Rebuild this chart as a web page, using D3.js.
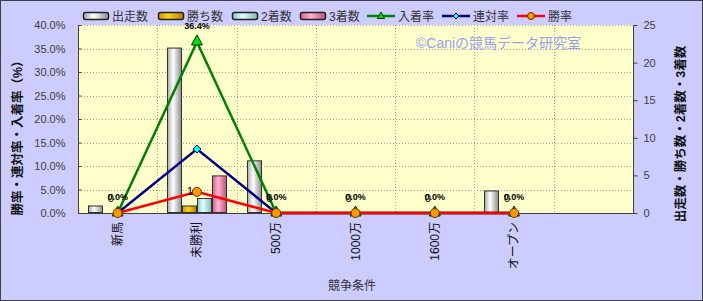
<!DOCTYPE html>
<html><head><meta charset="utf-8">
<script src="https://cdn.jsdelivr.net/npm/d3@7/dist/d3.min.js"></script>
<style>
html,body{margin:0;padding:0;background:#fff;}
svg{display:block;}
text{font-family:"Liberation Sans","Noto Sans CJK JP",sans-serif;}
</style></head><body>
<svg id="c" width="703" height="301"></svg>
<script>
const categories = ["新馬","未勝利","500万","1000万","1600万","オープン",""];
const starts  = [1,22,7,0,0,3,null];   // 出走数
const wins    = [0,1,0,0,0,0,null];    // 勝ち数
const seconds = [0,2,0,0,0,0,null];    // 2着数
const thirds  = [0,5,0,0,0,0,null];    // 3着数
const placeRate = [0,0.364,0,0,0,0,null]; // 入着率
const quinRate  = [0,0.136,0,0,0,0,null]; // 連対率
const winRate   = [0,0.045,0,0,0,0,null]; // 勝率
const placeLabels = ["0.0%","36.4%","0.0%","0.0%","0.0%","0.0%",null];
const winLabels   = ["0","1","0","0","0","0",null];
const leftTicks  = [0,0.05,0.1,0.15,0.2,0.25,0.3,0.35,0.4];
const rightTicks = [0,5,10,15,20,25];

const svg = d3.select("#c");
const W=703,H=301;
const L=78,R=633,T=25,B=213;

const defs = svg.append("defs");
function grad(id, c0, c1, c2){
  const g = defs.append("linearGradient").attr("id",id).attr("x1","0").attr("x2","1").attr("y1","0").attr("y2","0");
  g.append("stop").attr("offset","0%").attr("stop-color",c0);
  g.append("stop").attr("offset","40%").attr("stop-color",c1);
  g.append("stop").attr("offset","100%").attr("stop-color",c2);
}
grad("gS","#a8a8a8","#ffffff","#8c8c8c");
grad("gW","#c89600","#ffd21e","#b08000");
grad("gP","#8cc8c8","#e0ffff","#80b8b8");
grad("gT","#d0608c","#ffb4d2","#c05080");

// background
svg.append("rect").attr("x",0.5).attr("y",0.5).attr("width",W-1).attr("height",H-1)
  .attr("fill","#ccccff").attr("stroke","#404040").attr("stroke-width",1);
svg.append("rect").attr("x",L).attr("y",T).attr("width",R-L).attr("height",B-T).attr("fill","#ffffcc");

const x = d3.scaleBand().domain(categories.map((d,i)=>i)).range([L,R]).paddingInner(0).paddingOuter(0);
const xs = d3.scaleBand().domain([0,1,2,3]).range([0,x.bandwidth()]).paddingOuter(0.68).paddingInner(0);
const yL = d3.scaleLinear().domain([0,0.4]).range([B,T]);
const yR = d3.scaleLinear().domain([0,25]).range([B,T]);

// gridlines
const grid = svg.append("g").attr("stroke","#a0a0a0").attr("stroke-dasharray","1,2").attr("stroke-width",1);
leftTicks.slice(1).forEach(t=>{
  grid.append("line").attr("x1",L).attr("x2",R).attr("y1",Math.round(yL(t))+0.5).attr("y2",Math.round(yL(t))+0.5);
});
categories.forEach((c,i)=>{ if(i>0){
  const xx=Math.round(x(i))+0.5;
  grid.append("line").attr("x1",xx).attr("x2",xx).attr("y1",T).attr("y2",B);
}});

// watermark
svg.append("text").attr("x",416).attr("y",48).attr("fill","#9c9cf0").attr("font-size",14)
  .text("©Caniの競馬データ研究室");

// bars
const series = [
  {name:"出走数",vals:starts,fill:"url(#gS)"},
  {name:"勝ち数",vals:wins,fill:"url(#gW)"},
  {name:"2着数",vals:seconds,fill:"url(#gP)"},
  {name:"3着数",vals:thirds,fill:"url(#gT)"}
];
const barsG = svg.append("g");
series.forEach((s,si)=>{
  s.vals.forEach((v,i)=>{
    if(v==null||v<=0) return;
    const x0 = Math.round(x(i)+xs(si));
    barsG.append("rect").attr("x",x0+0.5).attr("y",yR(v)+0.5)
      .attr("width",Math.round(xs.bandwidth())-1).attr("height",yR(0)-yR(v)-1)
      .attr("fill",s.fill).attr("stroke","#303030").attr("stroke-width",1);
  });
});

// axes
const axG = svg.append("g");
axG.append("line").attr("x1",L+0.5).attr("x2",L+0.5).attr("y1",T).attr("y2",B+1).attr("stroke","#404040");
axG.append("line").attr("x1",R+0.5).attr("x2",R+0.5).attr("y1",T).attr("y2",B+1).attr("stroke","#404040");
axG.append("line").attr("x1",L).attr("x2",R+1).attr("y1",B+0.5).attr("y2",B+0.5).attr("stroke","#404040");

const leftAxis = d3.axisLeft(yL).tickValues(leftTicks).tickFormat(d3.format(".1%")).tickSize(-3).tickPadding(13);
const la = svg.append("g").attr("transform",`translate(${L+0.5},0)`).call(leftAxis);
la.select(".domain").remove();
la.selectAll("line").attr("stroke","#404040");
la.selectAll("text").attr("fill","#404040").attr("font-size",11).attr("font-family","Liberation Sans, sans-serif");

const rightAxis = d3.axisRight(yR).tickValues(rightTicks).tickFormat(d3.format("d")).tickSize(4).tickPadding(6);
const ra = svg.append("g").attr("transform",`translate(${R+0.5},0)`).call(rightAxis);
ra.select(".domain").remove();
ra.selectAll("line").attr("stroke","#404040");
ra.selectAll("text").attr("fill","#404040").attr("font-size",11).attr("font-family","Liberation Sans, sans-serif");

// x labels
categories.forEach((c,i)=>{
  if(!c) return;
  const cx = x(i)+x.bandwidth()/2;
  svg.append("text").attr("transform",`translate(${cx+4},${B+9}) rotate(-90)`)
    .attr("text-anchor","end").attr("font-size",12).attr("fill","#111").text(c);
});

// axis titles
svg.append("text").attr("x",352).attr("y",290).attr("text-anchor","middle").attr("font-size",12).attr("fill","#333").text("競争条件");
svg.append("text").attr("transform","translate(22,135) rotate(-90)").attr("text-anchor","middle")
  .attr("font-size",12.5).attr("font-weight","bold").attr("fill","#111").text("勝率・連対率・入着率（%）");
svg.append("text").attr("transform","translate(685,134) rotate(-90)").attr("text-anchor","middle")
  .attr("font-size",12.5).attr("font-weight","bold").attr("fill","#111").text("出走数・勝ち数・2着数・3着数");

// lines
const lineSeries = [
  {name:"入着率",vals:placeRate,color:"#008000",marker:"tri",mfill:"#00e000"},
  {name:"連対率",vals:quinRate,color:"#000080",marker:"dia",mfill:"#00ffff"},
  {name:"勝率",vals:winRate,color:"#ff0000",marker:"cir",mfill:"#ff9900"}
];
function drawMarker(g,type,cx,cy,fill){
  if(type==="tri"){
    g.append("path").attr("d",`M${cx},${cy-7}L${cx+5.5},${cy+3}L${cx-5.5},${cy+3}Z`).attr("fill",fill).attr("stroke","#003300").attr("stroke-width",1);
  } else if(type==="dia"){
    g.append("path").attr("d",`M${cx},${cy-4}L${cx+4},${cy}L${cx},${cy+4}L${cx-4},${cy}Z`).attr("fill",fill).attr("stroke","#000040").attr("stroke-width",1);
  } else {
    g.append("circle").attr("cx",cx).attr("cy",cy).attr("r",4.5).attr("fill",fill).attr("stroke","#603000").attr("stroke-width",1);
  }
}
const linesG = svg.append("g");
lineSeries.forEach(s=>{
  const pts = s.vals.map((v,i)=>v==null?null:[x(i)+x.bandwidth()/2, yL(v)]).filter(p=>p);
  linesG.append("path").attr("d",d3.line()(pts)).attr("fill","none").attr("stroke",s.color).attr("stroke-width",2.5);
});
lineSeries.forEach(s=>{
  s.vals.forEach((v,i)=>{ if(v==null) return; drawMarker(linesG,s.marker,x(i)+x.bandwidth()/2,yL(v),s.mfill); });
});

// data labels
categories.forEach((c,i)=>{
  if(placeLabels[i]==null) return;
  const cx = x(i)+x.bandwidth()/2;
  svg.append("text").attr("x",cx-10).attr("y",i===1?yL(winRate[i])+3:B-11)
    .attr("font-size",11).attr("fill","#000").text(winLabels[i]);
  svg.append("text").attr("x",cx).attr("y",yL(placeRate[i])-13).attr("text-anchor","middle")
    .attr("font-size",9).attr("font-weight","bold").attr("fill","#000").text(placeLabels[i]);
});

// legend
const lg = svg.append("g");
const legBars = [{t:"出走数",x:83,f:"url(#gS)"},{t:"勝ち数",x:158,f:"url(#gW)"},{t:"2着数",x:232,f:"url(#gP)"},{t:"3着数",x:300,f:"url(#gT)"}];
legBars.forEach(d=>{
  lg.append("rect").attr("x",d.x+0.5).attr("y",12.5).attr("width",25).attr("height",7).attr("rx",2)
    .attr("fill",d.f).attr("stroke","#202020").attr("stroke-width",1.5);
  lg.append("text").attr("x",d.x+29).attr("y",21).attr("font-size",12).attr("fill","#333").text(d.t);
});
const legLines = [{t:"入着率",x:367,s:lineSeries[0]},{t:"連対率",x:442,s:lineSeries[1]},{t:"勝率",x:517,s:lineSeries[2]}];
legLines.forEach(d=>{
  lg.append("line").attr("x1",d.x).attr("x2",d.x+28).attr("y1",16).attr("y2",16).attr("stroke",d.s.color).attr("stroke-width",2.5);
  if(d.s.marker==="tri"){
    lg.append("path").attr("d",`M${d.x+14},${12}L${d.x+17.5},${18.5}L${d.x+10.5},${18.5}Z`).attr("fill",d.s.mfill).attr("stroke","#003300");
  } else if(d.s.marker==="dia"){
    lg.append("path").attr("d",`M${d.x+14},${13}L${d.x+17},${16}L${d.x+14},${19}L${d.x+11},${16}Z`).attr("fill",d.s.mfill).attr("stroke","#000040");
  } else {
    lg.append("circle").attr("cx",d.x+14).attr("cy",16).attr("r",3.5).attr("fill",d.s.mfill).attr("stroke","#603000");
  }
  lg.append("text").attr("x",d.x+31).attr("y",21).attr("font-size",12).attr("fill","#333").text(d.t);
});
</script></body></html>
